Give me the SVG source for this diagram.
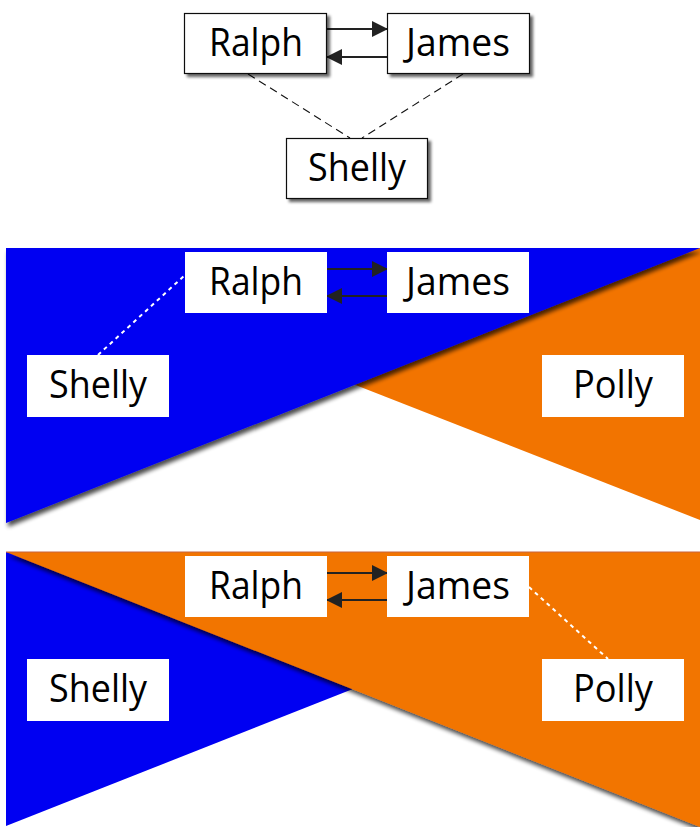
<svg xmlns="http://www.w3.org/2000/svg" width="700" height="827" viewBox="0 0 700 827">
<style>
.lbl{font-family:"Open Sans","Noto Sans",sans-serif;font-size:39px;fill:#000;text-anchor:middle}
.box{fill:#fff;stroke:#111;stroke-width:1.2}
.wbox{fill:#fff}
.arr{stroke:#222;stroke-width:2;fill:none}
.dash{stroke:#111;stroke-width:1.1;stroke-dasharray:8,5;fill:none}
.dot{stroke:#fff;stroke-width:2;stroke-dasharray:4,4;fill:none}
.blue{fill:#0000f2}
.orange{fill:#f27400}
</style>
<defs>
<marker id="ah" viewBox="0 0 16 16" refX="15" refY="8" markerWidth="16" markerHeight="16" markerUnits="userSpaceOnUse" orient="auto">
<path d="M0,0 L16,8 L0,16 Z" fill="#222"/>
</marker>
<filter id="sh" x="-20%" y="-20%" width="140%" height="140%">
<feGaussianBlur in="SourceAlpha" stdDeviation="1.5"/>
<feOffset dx="3" dy="3" result="b"/>
<feComponentTransfer><feFuncA type="linear" slope="0.6"/></feComponentTransfer>
<feMerge><feMergeNode/><feMergeNode in="SourceGraphic"/></feMerge>
</filter>
<filter id="tsh" x="-10%" y="-10%" width="120%" height="130%">
<feGaussianBlur in="SourceAlpha" stdDeviation="2"/>
<feOffset dx="2" dy="4" result="b"/>
<feComponentTransfer><feFuncA type="linear" slope="0.7"/></feComponentTransfer>
<feMerge><feMergeNode/><feMergeNode in="SourceGraphic"/></feMerge>
</filter>
</defs>

<!-- Panel 1 -->
<g id="p1-connectors">
<line class="dash" x1="248" y1="74" x2="350" y2="138"/>
<line class="dash" x1="463" y1="74" x2="362" y2="138"/>
<line class="arr" x1="327" y1="29" x2="387" y2="29" marker-end="url(#ah)"/>
<line class="arr" x1="387" y1="57" x2="327" y2="57" marker-end="url(#ah)"/>
</g>
<g id="p1-ralph"><rect class="box" x="184.5" y="13.5" width="142" height="60" filter="url(#sh)"/><text class="lbl" x="256" y="56" textLength="94" lengthAdjust="spacingAndGlyphs">Ralph</text></g>
<g id="p1-james"><rect class="box" x="387.5" y="13.5" width="142" height="60" filter="url(#sh)"/><text class="lbl" x="458" y="56" textLength="104" lengthAdjust="spacingAndGlyphs">James</text></g>
<g id="p1-shelly"><rect class="box" x="286.5" y="138.5" width="141" height="60" filter="url(#sh)"/><text class="lbl" x="357" y="181" textLength="98" lengthAdjust="spacingAndGlyphs">Shelly</text></g>

<!-- Panel 2 -->
<g id="p2-background">
<polygon class="orange" points="6,248 700,248 700,520"/>
<polygon class="blue" points="6,248 700,248 6,523" filter="url(#tsh)"/>
</g>
<g id="p2-connectors">
<line class="dot" x1="98" y1="355" x2="185" y2="275"/>
<line class="arr" x1="327" y1="269" x2="387" y2="269" marker-end="url(#ah)"/>
<line class="arr" x1="387" y1="296" x2="327" y2="296" marker-end="url(#ah)"/>
</g>
<g id="p2-ralph"><rect class="wbox" x="185" y="252" width="142" height="61"/><text class="lbl" x="256" y="295" textLength="94" lengthAdjust="spacingAndGlyphs">Ralph</text></g>
<g id="p2-james"><rect class="wbox" x="387" y="252" width="142" height="61"/><text class="lbl" x="458" y="295" textLength="104" lengthAdjust="spacingAndGlyphs">James</text></g>
<g id="p2-shelly"><rect class="wbox" x="27" y="355" width="142" height="62"/><text class="lbl" x="98" y="398" textLength="98" lengthAdjust="spacingAndGlyphs">Shelly</text></g>
<g id="p2-polly"><rect class="wbox" x="542" y="355" width="142" height="62"/><text class="lbl" x="613" y="398" textLength="80" lengthAdjust="spacingAndGlyphs">Polly</text></g>

<!-- Panel 3 -->
<g id="p3-background">
<polygon class="blue" points="6,552 700,552 6,826"/>
<polygon class="orange" points="6,552 700,552 700,827" filter="url(#tsh)"/>
<line x1="6" y1="552" x2="700" y2="552" stroke="#c8643c" stroke-width="1"/>
</g>
<g id="p3-connectors">
<line class="dot" x1="529" y1="587" x2="608" y2="659"/>
<line class="arr" x1="327" y1="573" x2="387" y2="573" marker-end="url(#ah)"/>
<line class="arr" x1="387" y1="600" x2="327" y2="600" marker-end="url(#ah)"/>
</g>
<g id="p3-ralph"><rect class="wbox" x="185" y="556" width="142" height="61"/><text class="lbl" x="256" y="599" textLength="94" lengthAdjust="spacingAndGlyphs">Ralph</text></g>
<g id="p3-james"><rect class="wbox" x="387" y="556" width="142" height="61"/><text class="lbl" x="458" y="599" textLength="104" lengthAdjust="spacingAndGlyphs">James</text></g>
<g id="p3-shelly"><rect class="wbox" x="27" y="659" width="142" height="62"/><text class="lbl" x="98" y="702" textLength="98" lengthAdjust="spacingAndGlyphs">Shelly</text></g>
<g id="p3-polly"><rect class="wbox" x="542" y="659" width="142" height="62"/><text class="lbl" x="613" y="702" textLength="80" lengthAdjust="spacingAndGlyphs">Polly</text></g>
</svg>
